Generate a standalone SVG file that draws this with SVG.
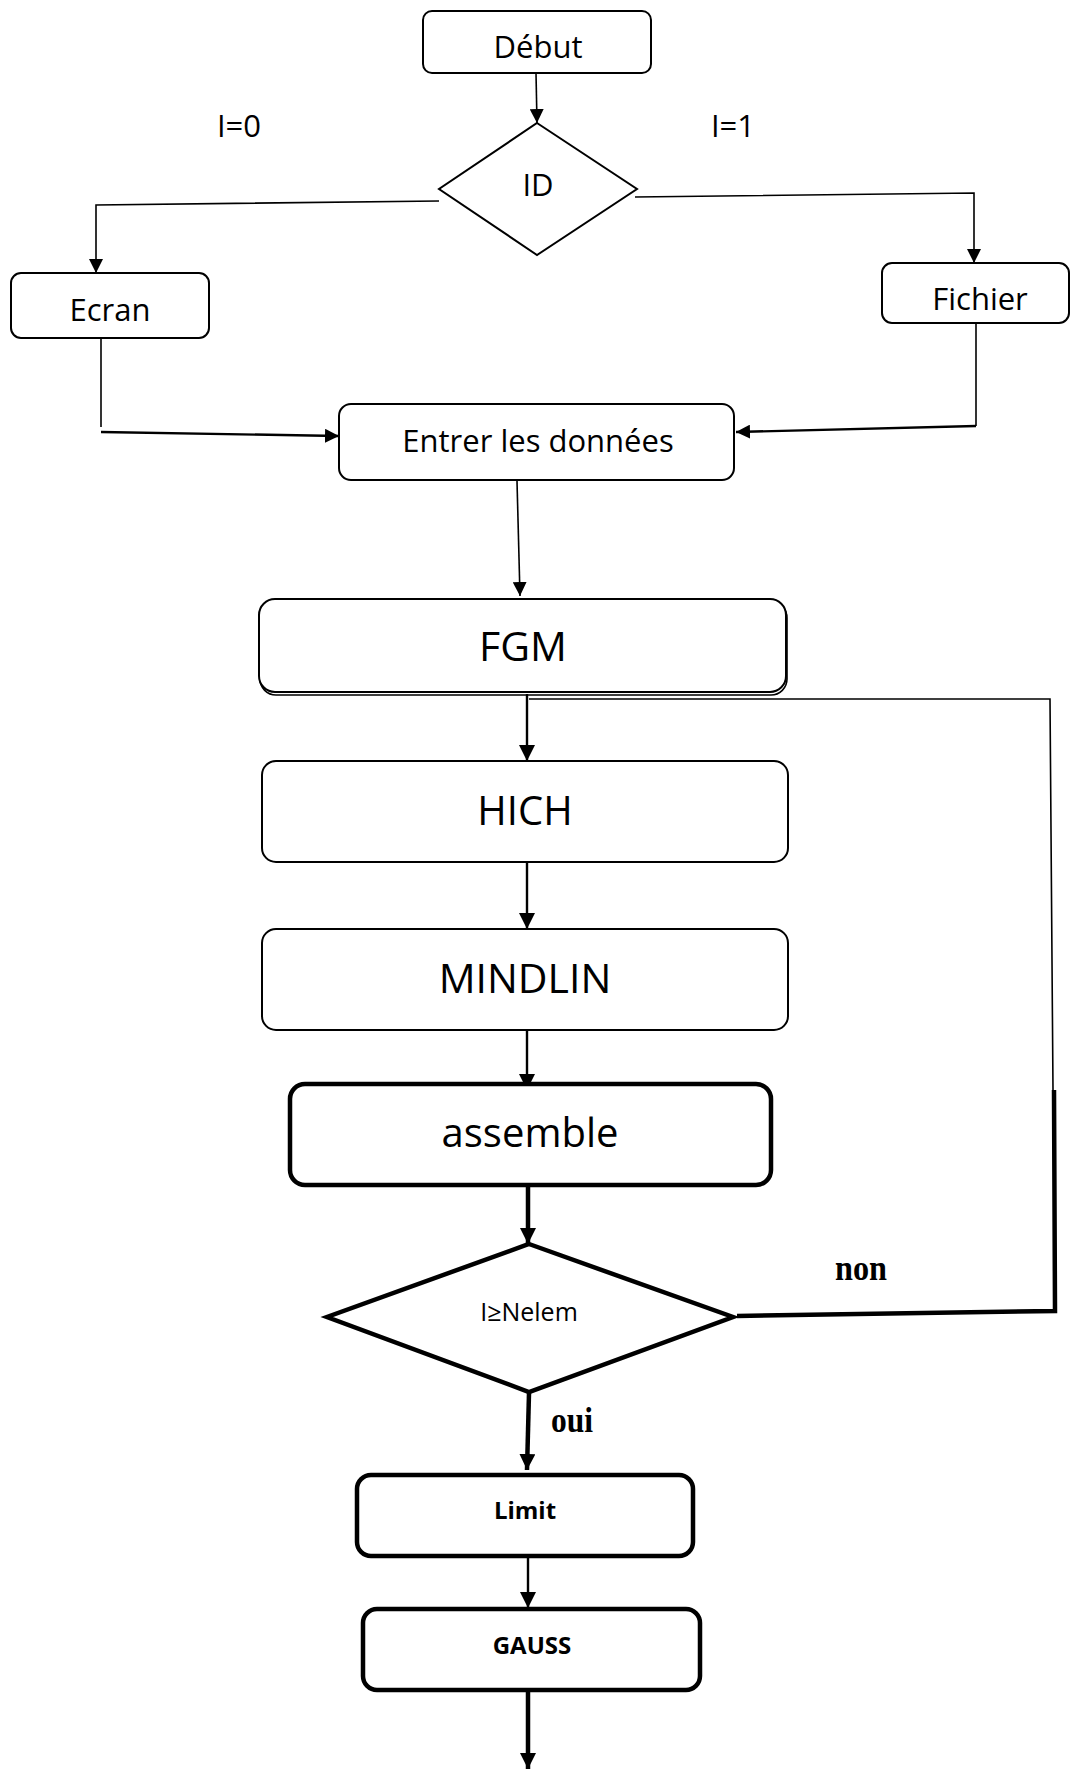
<svg xmlns="http://www.w3.org/2000/svg" width="1071" height="1769" viewBox="0 0 1071 1769">
  <style>
    .box { fill: #fff; stroke: #000; stroke-width: 2; }
    .bold-box { fill: #fff; stroke: #000; stroke-width: 4.5; }
    .lbl { font-family: "Open Sans", "Noto Sans", sans-serif; fill: #000; text-anchor: middle; }
    .lbl-b { font-family: "Open Sans", "Noto Sans", sans-serif; font-weight: bold; fill: #000; text-anchor: middle; }
    .serif-b { font-family: "Liberation Serif", "DejaVu Serif", serif; font-weight: bold; fill: #000; text-anchor: middle; }
    .ln { fill: none; stroke: #000; stroke-width: 1.6; }
    .ln2 { fill: none; stroke: #000; stroke-width: 2.4; }
    .ln4 { fill: none; stroke: #000; stroke-width: 4.5; }
  </style>
  <defs>
    <marker id="arrow" markerUnits="userSpaceOnUse" markerWidth="14" markerHeight="14" refX="14" refY="7" orient="auto">
      <path d="M0,0 L14,7 L0,14 z" fill="#000"/>
    </marker>
    <marker id="arrow-lg" markerUnits="userSpaceOnUse" markerWidth="16" markerHeight="16" refX="16" refY="8" orient="auto">
      <path d="M0,0 L16,8 L0,16 z" fill="#000"/>
    </marker>
  </defs>

  <!-- connectors -->
  <g id="connectors">
    <path class="ln" d="M536,73 L537,123" marker-end="url(#arrow)"/>
    <path class="ln" d="M439,201 L96,205 L96,273" marker-end="url(#arrow)"/>
    <path class="ln" d="M635,197 L974,193 L974,263" marker-end="url(#arrow)"/>
    <path class="ln" d="M101,338 L101,427"/>
    <path class="ln2" d="M101,432 L339,436" marker-end="url(#arrow)"/>
    <path class="ln" d="M976,323 L976,426"/>
    <path class="ln2" d="M976,426 L736,432" marker-end="url(#arrow)"/>
    <path class="ln" d="M517,481 L520,596" marker-end="url(#arrow)"/>
    <path class="ln2" d="M527,694 L527,761" marker-end="url(#arrow-lg)"/>
    <path class="ln2" d="M527,863 L527,929" marker-end="url(#arrow-lg)"/>
    <path class="ln2" d="M527,1030 L527,1090" marker-end="url(#arrow-lg)"/>
    <path class="ln4" d="M528,1187 L528,1244" marker-end="url(#arrow-lg)"/>
    <path class="ln4" d="M529,1393 L527,1470" marker-end="url(#arrow-lg)"/>
    <path class="ln2" d="M528,1557 L528,1608" marker-end="url(#arrow-lg)"/>
    <path class="ln4" d="M528,1692 L528,1769" marker-end="url(#arrow-lg)"/>
    <!-- return loop "non" back above HICH -->
    <path class="ln" d="M529,699 L1050,699 L1053,1090"/>
    <path class="ln4" d="M737,1316 L1055,1311 L1054,1090"/>
  </g>

  <g id="debut">
    <rect class="box" x="423" y="11" width="228" height="62" rx="9"/>
    <text class="lbl" x="538" y="58" font-size="31">Début</text>
  </g>

  <g id="id-choice">
    <polygon class="box" stroke-width="1.6" points="537,123 637,189 537,255 439,189"/>
    <text class="lbl" x="538" y="196" font-size="31">ID</text>
  </g>

  <g id="label-i0"><text class="lbl" x="239" y="137" font-size="31">I=0</text></g>
  <g id="label-i1"><text class="lbl" x="733" y="137" font-size="31">I=1</text></g>

  <g id="ecran">
    <rect class="box" x="11" y="273" width="198" height="65" rx="10"/>
    <text class="lbl" x="110" y="321" font-size="31">Ecran</text>
  </g>

  <g id="fichier">
    <rect class="box" x="882" y="263" width="187" height="60" rx="10"/>
    <text class="lbl" x="980" y="310" font-size="31">Fichier</text>
  </g>

  <g id="entrer">
    <rect class="box" stroke-width="1.6" x="339" y="404" width="395" height="76" rx="12"/>
    <text class="lbl" x="538" y="452" font-size="31">Entrer les données</text>
  </g>

  <g id="fgm">
    <rect fill="none" stroke="#000" stroke-width="1.6" x="260" y="602" width="527" height="93" rx="16"/>
    <rect class="box" x="259" y="599" width="527" height="93" rx="16"/>
    <text class="lbl" x="523" y="661" font-size="41">FGM</text>
  </g>

  <g id="hich">
    <rect class="box" x="262" y="761" width="526" height="101" rx="14"/>
    <text class="lbl" x="525" y="825" font-size="40">HICH</text>
  </g>

  <g id="mindlin">
    <rect class="box" x="262" y="929" width="526" height="101" rx="14"/>
    <text class="lbl" x="525" y="993" font-size="41">MINDLIN</text>
  </g>

  <g id="assemble">
    <rect class="bold-box" x="290" y="1084" width="481" height="101" rx="15"/>
    <text class="lbl" x="530" y="1147" font-size="40">assemble</text>
  </g>

  <g id="test-nelem">
    <polygon class="bold-box" points="529,1244 733,1317 529,1392 327,1317"/>
    <text class="lbl" x="529" y="1321" font-size="25">I≥Nelem</text>
  </g>

  <g id="label-non"><text class="serif-b" x="861" y="1280" font-size="35" textLength="52" lengthAdjust="spacingAndGlyphs">non</text></g>
  <g id="label-oui"><text class="serif-b" x="572" y="1432" font-size="35" textLength="42" lengthAdjust="spacingAndGlyphs">oui</text></g>

  <g id="limit">
    <rect class="bold-box" x="357" y="1475" width="336" height="81" rx="14"/>
    <text class="lbl-b" x="525" y="1519" font-size="24">Limit</text>
  </g>

  <g id="gauss">
    <rect class="bold-box" x="363" y="1609" width="337" height="81" rx="14"/>
    <text class="lbl-b" x="532" y="1654" font-size="24">GAUSS</text>
  </g>
</svg>
